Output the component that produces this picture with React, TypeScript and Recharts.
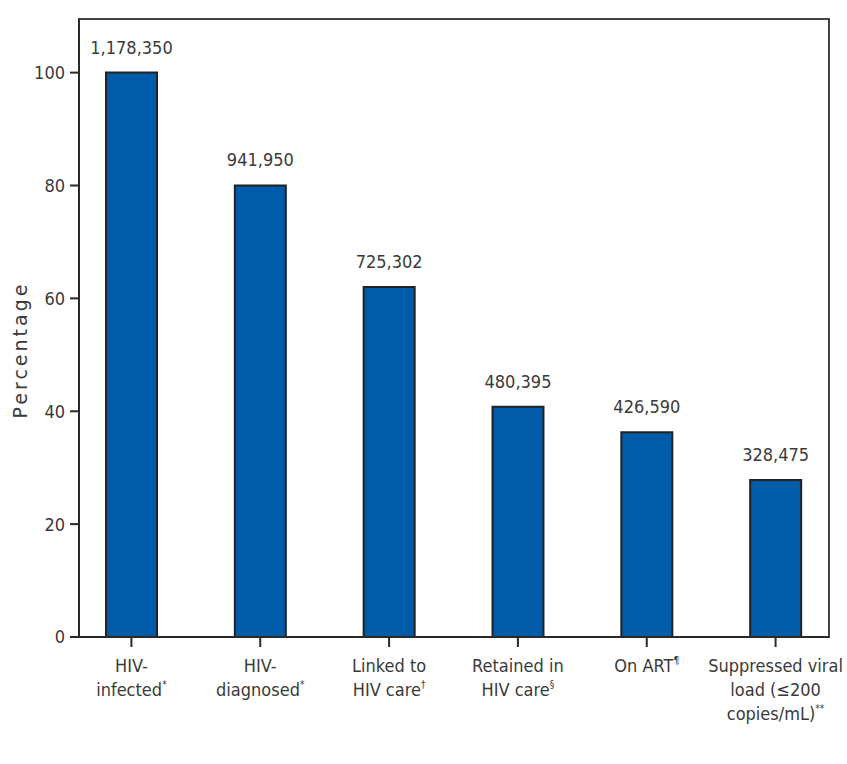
import React from 'react';
import { BarChart, Bar, XAxis, YAxis, LabelList, ReferenceArea } from 'recharts';

const categories: string[][] = [
  ['HIV-', 'infected*'],
  ['HIV-', 'diagnosed*'],
  ['Linked to', 'HIV care†'],
  ['Retained in', 'HIV care§'],
  ['On ART¶'],
  ['Suppressed viral', 'load (≤200', 'copies/mL)**'],
];
const percentages: number[] = [100, 80, 62, 40.8, 36.3, 27.8];
const counts: number[] = [1178350, 941950, 725302, 480395, 426590, 328475];
const yTicks: number[] = [0, 20, 40, 60, 80, 100];
const Y_MAX = 109.5;

const data = categories.map((c, i) => ({
  name: c.join('|'),
  pct: percentages[i],
  count: counts[i],
}));
const FRAME_MAX = data.length - 1;

const FONT = '"DejaVu Sans Condensed", "DejaVu Sans", sans-serif';
const TEXT = '#3a3a3a';
const AXIS = '#2a2a2a';

const splitSup = (s: string): [string, string] => {
  const m = s.match(/^(.*?)([*†§¶]+)$/);
  if (m) return [m[1], m[2]];
  return [s, ''];
};

const XTick = (props: any) => {
  const { x, y, payload } = props;
  const lines: string[] = String(payload.value).split('|');
  return (
    <g>
      {lines.map((ln, i) => {
        const [main, sup] = splitSup(ln);
        return (
          <text
            key={i}
            x={x}
            y={y + 25 + i * 24}
            textAnchor="middle"
            fontFamily={FONT}
            fontSize={18}
            fill={TEXT}
          >
            {main}
            {sup && (
              <tspan fontSize={10} dy={-8}>
                {sup}
              </tspan>
            )}
          </text>
        );
      })}
    </g>
  );
};

const YLabel = () => (
  <text
    x={27}
    y={350}
    transform="rotate(-90 27 350)"
    textAnchor="middle"
    fontFamily='"DejaVu Sans", Verdana, sans-serif'
    fontSize={19}
    letterSpacing={3}
    fill={TEXT}
  >
    Percentage
  </text>
);

export default function App() {
  return (
    <div style={{ position: 'absolute', left: 0, top: 0, background: '#fff' }}>
      <BarChart
        width={847}
        height={764}
        data={data}
        margin={{ top: 19, right: 18, bottom: 0, left: 0 }}
        barCategoryGap={0}
      >
        <XAxis
          xAxisId="frame"
          type="number"
          domain={[0, FRAME_MAX]}
          allowDataOverflow
          hide
        />
        <ReferenceArea
          xAxisId="frame"
          x1={0}
          x2={FRAME_MAX}
          y1={0}
          y2={Y_MAX}
          fill="none"
          stroke="#444"
          strokeWidth={2}
          ifOverflow="visible"
        />
        <XAxis
          dataKey="name"
          interval={0}
          tick={<XTick />}
          tickSize={10}
          tickMargin={0}
          height={127}
          padding={{ left: -12, right: -11 }}
          axisLine={{ stroke: AXIS, strokeWidth: 2 }}
          tickLine={{ stroke: AXIS, strokeWidth: 2 }}
        />
        <YAxis
          domain={[0, Y_MAX]}
          ticks={yTicks}
          width={79}
          tickSize={9}
          tickMargin={5}
          interval={0}
          axisLine={{ stroke: AXIS, strokeWidth: 2 }}
          tickLine={{ stroke: AXIS, strokeWidth: 2 }}
          tick={{ fontFamily: FONT, fontSize: 18, fill: TEXT }}
          label={{ content: () => <YLabel /> }}
        />
        <Bar
          dataKey="pct"
          fill="#005BA9"
          stroke="#222"
          strokeWidth={2}
          barSize={51}
          isAnimationActive={false}
        >
          <LabelList
            dataKey="count"
            position="top"
            offset={19}
            formatter={(v: any) => Number(v).toLocaleString('en-US')}
            style={{ fontFamily: FONT, fontSize: 18, fill: TEXT }}
          />
        </Bar>
      </BarChart>
    </div>
  );
}
